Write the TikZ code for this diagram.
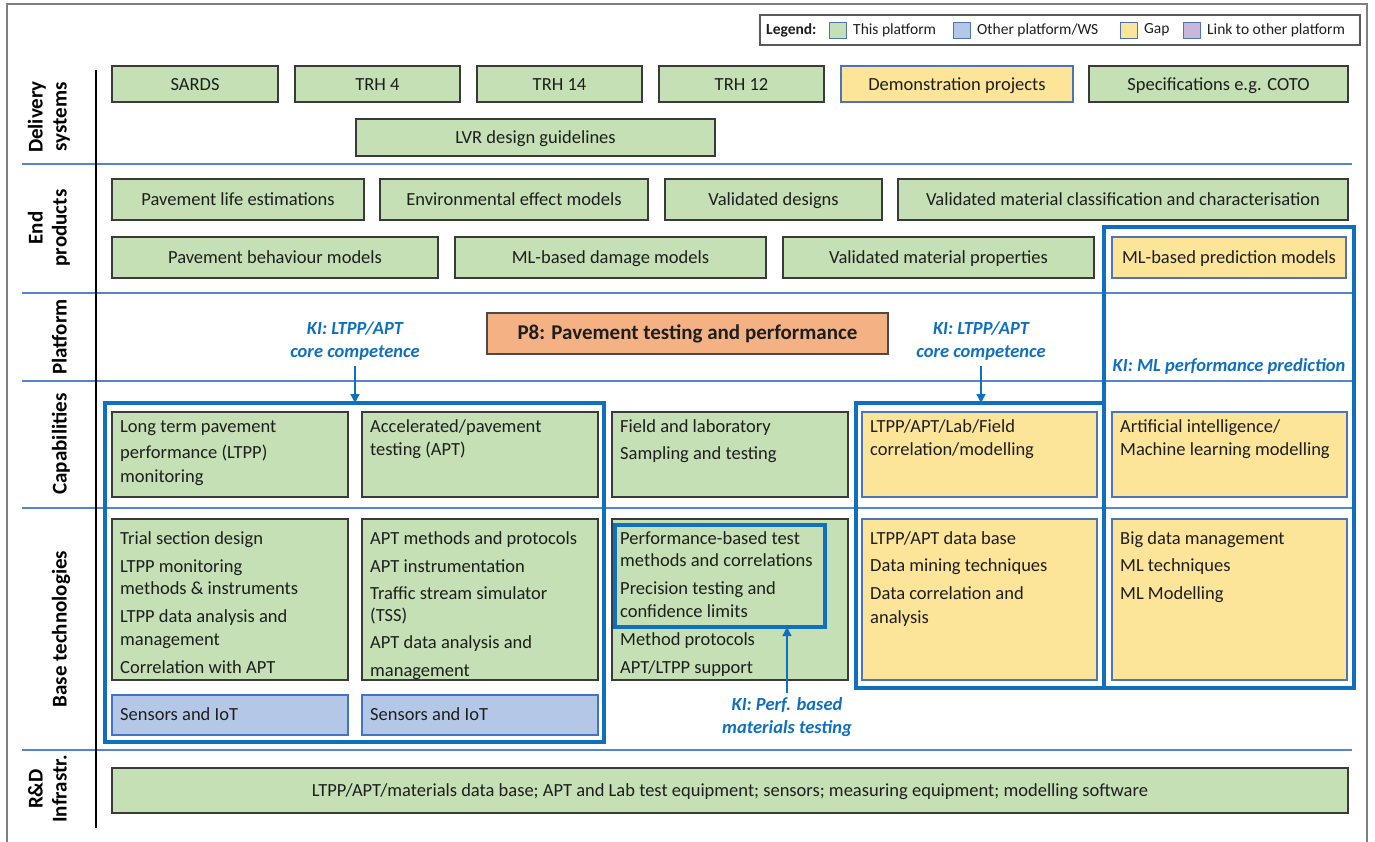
\documentclass[tikz,border=0pt]{standalone}
\usepackage{fontspec}
\setmainfont{Carlito}
\usetikzlibrary{arrows.meta}
\definecolor{gfill}{HTML}{C5E0B4}
\definecolor{gborder}{HTML}{3A3A3A}
\definecolor{yfill}{HTML}{FCE599}
\definecolor{yborder}{HTML}{4F74B3}
\definecolor{bfill}{HTML}{B4C7E7}
\definecolor{bborder}{HTML}{4472C4}
\definecolor{ofill}{HTML}{F4B183}
\definecolor{oborder}{HTML}{4A4A4A}
\definecolor{pfill}{HTML}{C9B6DB}
\definecolor{kiblue}{HTML}{1070C0}
\definecolor{sepblue}{HTML}{5585CC}
\definecolor{txt}{HTML}{1E1E1E}
\definecolor{framegray}{HTML}{7F7F7F}
\definecolor{leggray}{HTML}{595959}
\newcommand\bx[7]{\node[#6, minimum width={(#4-#2)*1pt}, minimum height={(#5-#3)*1pt}] (#1) at ({(#2+#4)/2},{(#3+#5)/2}) {#7};}
\begin{document}
\begin{tikzpicture}[x=1pt,y=-1pt,
  base/.style={inner sep=0pt, outer sep=0pt, text=txt, font=\fontsize{18.5}{22.5}\selectfont, text height=14pt, text depth=2pt},
  gbox/.style={base, draw=gborder, fill=gfill, line width=1.2pt},
  ybox/.style={base, draw=yborder, fill=yfill, line width=1.2pt},
  bbox/.style={base, draw=bborder, fill=bfill, line width=1.2pt},
  obox/.style={base, draw=oborder, fill=ofill, line width=1.2pt, font=\bfseries\fontsize{21}{24}\selectfont},
  kibox/.style={inner sep=0pt, outer sep=0pt, draw=kiblue, line width=3.3pt},
  kitext/.style={inner sep=0pt, align=center, text=kiblue, font=\bfseries\itshape\fontsize{18.5}{23}\selectfont},
  lines/.style={anchor=north west, inner sep=0pt, align=left, text=txt, font=\fontsize{18.5}{22.5}\selectfont},
  rowlab/.style={inner sep=0pt, rotate=90, anchor=south, align=center, text=black, font=\bfseries\fontsize{21}{24}\selectfont},
  sep/.style={draw=sepblue, line width=1.3pt},
  kiarrow/.style={draw=kiblue, line width=1.4pt, -{Triangle[length=9pt,width=9pt]}},
  legsq/.style={inner sep=0pt, outer sep=0pt, draw=yborder, line width=1pt},
  legtxt/.style={inner sep=0pt, anchor=west, text=txt, font=\fontsize{15.5}{18}\selectfont}
]
\clip (0,0) rectangle (1375,841);
\fill[white] (0,0) rectangle (1375,841);
% outer frame
\draw[framegray, line width=1.5pt] (7,4) rectangle (1367,880);

% legend
\bx{legbox}{760}{15}{1360}{45}{inner sep=0pt, draw=leggray, line width=1.2pt}{}
\node[legtxt, font=\bfseries\fontsize{15.5}{18}\selectfont] (legT) at (766,30) {Legend:};
\bx{legG}{829}{22}{846}{38}{legsq, fill=gfill}{}
\node[legtxt] (legGt) at (853,30) {This platform};
\bx{legB}{953}{22}{970}{38}{legsq, fill=bfill}{}
\node[legtxt] (legBt) at (977,30) {Other platform/WS};
\bx{legY}{1120}{22}{1137}{38}{legsq, fill=yfill}{}
\node[legtxt] (legYt) at (1144,30) {Gap};
\bx{legP}{1183}{22}{1200}{38}{legsq, fill=pfill}{}
\node[legtxt] (legPt) at (1207,30) {Link to other platform};

% row separators and left axis
\draw[sep] (22,164) -- (1352,164);
\draw[sep] (22,293) -- (1352,293);
\draw[sep] (22,381) -- (1352,381);
\draw[sep] (22,508) -- (1352,508);
\draw[sep] (22,750) -- (1352,750);
\draw[black, line width=1.2pt] (96,70) -- (96,828);

% row labels
\node[rowlab] (lDel) at (74,117) {Delivery\\systems\strut};
\node[rowlab] (lEnd) at (74,228) {End\\products\strut};
\node[rowlab] (lPla) at (74,337) {Platform\strut};
\node[rowlab] (lCap) at (74,444) {Capabilities\strut};
\node[rowlab] (lBas) at (74,629) {Base technologies\strut};
\node[rowlab] (lRD) at (74,789) {R\&D\\Infrastr.\strut};

% delivery systems
\bx{sards}{112}{66}{278}{102}{gbox}{SARDS}
\bx{trh4}{295}{66}{460}{102}{gbox}{TRH 4}
\bx{trh14}{477}{66}{642}{102}{gbox}{TRH 14}
\bx{trh12}{659}{66}{824}{102}{gbox}{TRH 12}
\bx{demo}{841}{66}{1073}{102}{ybox}{Demonstration projects}
\bx{spec}{1089}{66}{1348}{102}{gbox}{Specifications e.g. COTO}
\bx{lvr}{356}{119}{715}{156}{gbox}{LVR design guidelines}

% end products
\bx{life}{112}{179}{364}{220}{gbox}{Pavement life estimations}
\bx{env}{380}{179}{648}{220}{gbox}{Environmental effect models}
\bx{vdes}{665}{179}{882}{220}{gbox}{Validated designs}
\bx{vmat}{898}{179}{1348}{220}{gbox}{Validated material classification and characterisation}
\bx{behav}{112}{237}{438}{278}{gbox}{Pavement behaviour models}
\bx{mldam}{455}{237}{766}{278}{gbox}{ML-based damage models}
\bx{vprop}{783}{237}{1094}{278}{gbox}{Validated material properties}
\bx{mlpred}{1112}{237}{1346}{278}{ybox}{ML-based prediction models}

% platform
\bx{p8}{487}{313}{888}{354}{obox}{P8: Pavement testing and performance}

% capabilities
\bx{cap1}{112}{412}{348}{497}{gbox}{}
\bx{cap2}{362}{412}{598}{497}{gbox}{}
\bx{cap3}{612}{412}{848}{497}{gbox}{}
\bx{cap4}{862}{412}{1097}{497}{ybox}{}
\bx{cap5}{1112}{412}{1347}{497}{ybox}{}
\node[lines] (cap1t) at (120,417) {\strut Long term pavement\\[3.5pt]performance (LTPP)\\[1.5pt]monitoring};
\node[lines] (cap2t) at (370,417) {\strut Accelerated/pavement\\testing (APT)};
\node[lines] (cap3t) at (620,417) {\strut Field and laboratory\\[4.5pt]Sampling and testing};
\node[lines] (cap4t) at (870,417) {\strut LTPP/APT/Lab/Field\\correlation/modelling};
\node[lines] (cap5t) at (1120,417) {\strut Artificial intelligence/\\Machine learning modelling};

% base technologies
\bx{bt1}{112}{519}{348}{680}{gbox}{}
\bx{bt2}{362}{519}{598}{680}{gbox}{}
\bx{bt3}{612}{519}{848}{680}{gbox}{}
\bx{bt4}{862}{519}{1097}{680}{ybox}{}
\bx{bt5}{1112}{519}{1347}{680}{ybox}{}
\node[lines] (bt1t) at (120,528.5) {\strut Trial section design\\[5.5pt]LTPP monitoring\\methods \& instruments\\[5.5pt]LTPP data analysis and\\management\\[5.5pt]Correlation with APT};
\node[lines] (bt2t) at (370,528.5) {\strut APT methods and protocols\\[5.5pt]APT instrumentation\\[4.5pt]Traffic stream simulator\\(TSS)\\[4.5pt]APT data analysis and\\[5.5pt]management};
\node[lines] (bt3t) at (620,528.5) {\strut Performance-based test\\methods and correlations\\[5.5pt]Precision testing and\\confidence limits\\[5.5pt]Method protocols\\[5.5pt]APT/LTPP support};
\node[lines] (bt4t) at (870,528.5) {\strut LTPP/APT data base\\[4.5pt]Data mining techniques\\[5.5pt]Data correlation and\\[1.5pt]analysis};
\node[lines] (bt5t) at (1120,528.5) {\strut Big data management\\[4.5pt]ML techniques\\[5.5pt]ML Modelling};
\bx{sens1}{112}{695}{348}{735}{bbox}{}
\bx{sens2}{362}{695}{598}{735}{bbox}{}
\node[lines, anchor=west] (sens1t) at (120,714) {Sensors and IoT};
\node[lines, anchor=west] (sens2t) at (370,714) {Sensors and IoT};

% R&D infrastructure
\bx{rd}{112}{768}{1348}{813}{gbox}{LTPP/APT/materials data base; APT and Lab test equipment; sensors; measuring equipment; modelling software}

% key issue boxes
\bx{kiL}{105}{403}{604}{742}{kibox}{}
\bx{kiM}{856}{403}{1104}{688}{kibox}{}
\bx{kiR}{1104}{227}{1354}{688}{kibox}{}
\bx{kiP}{615}{525}{825}{627}{kibox}{}

% key issue labels and arrows
\node[kitext] (kiLt) at (355,341) {KI: LTPP/APT\\core competence};
\node[kitext] (kiMt) at (981,341) {KI: LTPP/APT\\core competence};
\node[kitext] (kiRt) at (1229,366) {KI: ML performance prediction};
\node[kitext] (kiPt) at (787,717) {KI: Perf. based\\materials testing};
\draw[kiarrow] ([yshift=-5pt]kiLt.south) -- (kiLt.south |- kiL.north);
\draw[kiarrow] ([yshift=-5pt]kiMt.south) -- (kiMt.south |- kiM.north);
\draw[kiarrow] ([yshift=4pt]kiPt.north) -- (kiPt.north |- kiP.south);
\end{tikzpicture}
\end{document}
